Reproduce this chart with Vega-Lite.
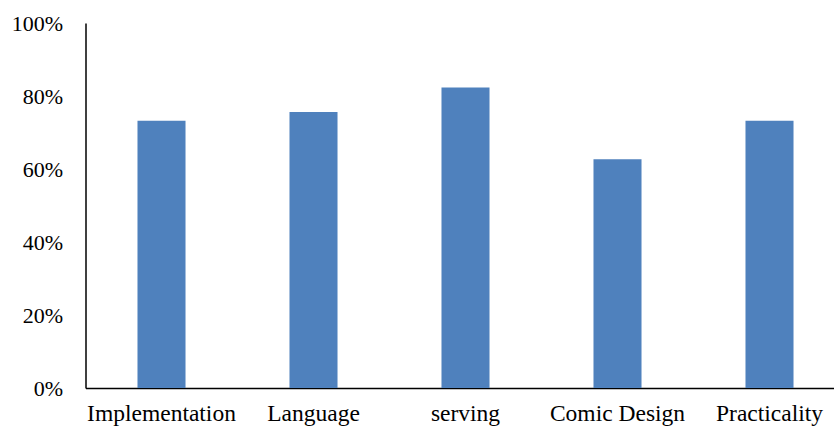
{
  "$schema": "https://vega.github.io/schema/vega-lite/v6.json",
  "autosize": "none",
  "width": 748.5,
  "height": 365,
  "padding": {"left": 85.5, "top": 23, "right": 0, "bottom": 42},
  "background": "white",
  "data": {
    "values": [
      {"category": "Implementation", "value": 0.732},
      {"category": "Language", "value": 0.756},
      {"category": "serving", "value": 0.823},
      {"category": "Comic Design", "value": 0.627},
      {"category": "Practicality", "value": 0.732}
    ]
  },
  "mark": {"type": "bar", "color": "#4F81BD"},
  "encoding": {
    "x": {
      "field": "category",
      "type": "nominal",
      "sort": null,
      "scale": {"range": [0, 760], "paddingInner": 0.684, "paddingOuter": 0.342},
      "axis": {
        "title": null,
        "labelAngle": 0,
        "ticks": false,
        "domainColor": "#000000",
        "domainWidth": 1.5,
        "labelFont": "Liberation Serif",
        "labelFontSize": 23.5,
        "labelColor": "#000000",
        "labelPadding": 13,
        "grid": false
      }
    },
    "y": {
      "field": "value",
      "type": "quantitative",
      "scale": {"domain": [0, 1], "nice": false},
      "axis": {
        "title": null,
        "values": [0, 0.2, 0.4, 0.6, 0.8, 1],
        "format": ".0%",
        "ticks": false,
        "grid": false,
        "domainColor": "#000000",
        "domainWidth": 1.5,
        "labelFont": "Liberation Serif",
        "labelFontSize": 22,
        "labelColor": "#000000",
        "labelPadding": 23
      }
    }
  },
  "config": {"view": {"stroke": null}}
}
